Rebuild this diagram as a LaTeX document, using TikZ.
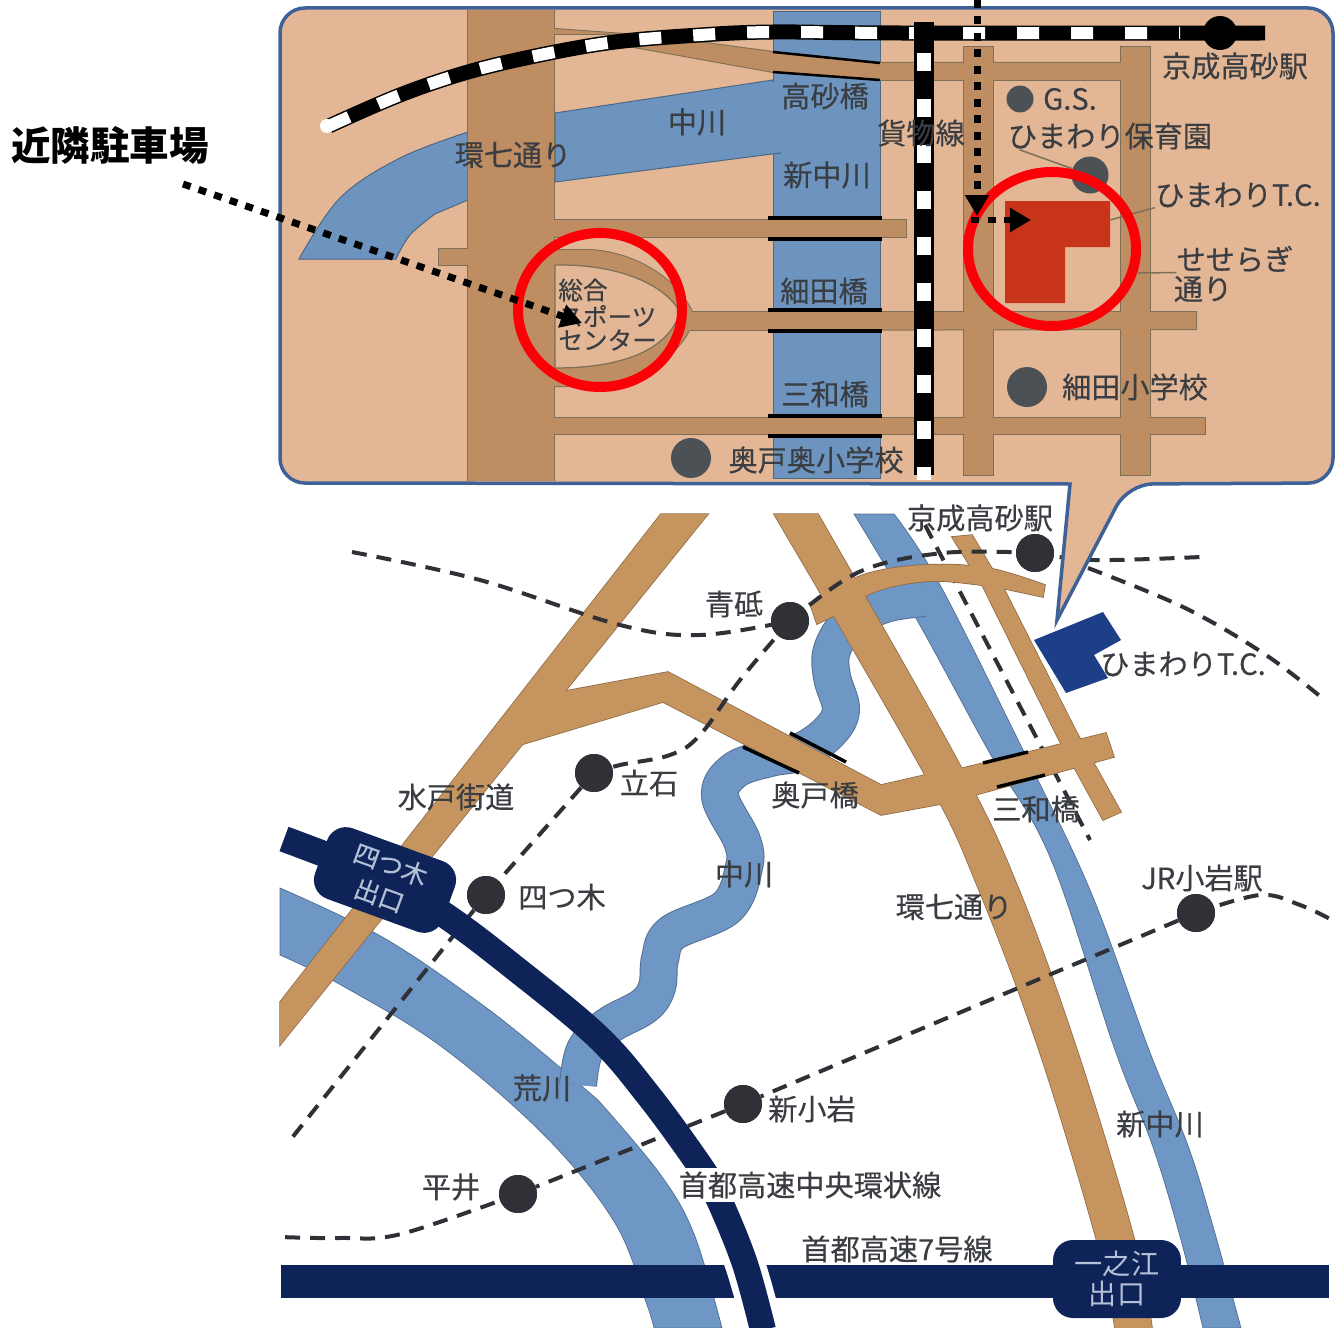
\documentclass[tikz,border=0pt]{standalone}
\usepackage{fontspec}
\setmainfont{Noto Sans CJK JP}
\newfontfamily\labfont{Noto Sans CJK JP}[FakeBold=0.35]
\usetikzlibrary{arrows.meta}
\definecolor{beige}{HTML}{E3B795}
\definecolor{roadT}{HTML}{BE8D62}
\definecolor{blueT}{HTML}{6C94BE}
\definecolor{roadB}{HTML}{C6955F}
\definecolor{blueB}{HTML}{6F97C6}
\definecolor{navy}{HTML}{0E2358}
\definecolor{panelline}{HTML}{3E6197}
\definecolor{labc}{HTML}{3A3D42}
\definecolor{dotg}{HTML}{4C5156}
\definecolor{dotd}{HTML}{2F3136}
\definecolor{edgeT}{HTML}{7D6F58}
\definecolor{redc}{HTML}{FB0007}
\definecolor{bldg}{HTML}{C8341A}
\definecolor{bldgb}{HTML}{1C3F87}
\definecolor{exitc}{HTML}{B4C0D6}
\newcommand{\lowroads}[1]{%
  \path[#1] (661,514) -- (708,514) -- (280,1045) -- (280,1002) -- cycle;
  \path[#1] (560,692) -- (668,672) -- (881,785) -- (925,775) -- (952,802) -- (881,815) -- (663,702) -- (520,745) -- cycle;
  \path[#1] plot[smooth,tension=0.6] coordinates {(810,604)(863,575)(925,565)(988,568)(1045,585)} -- (1043,597) --
    plot[smooth,tension=0.6] coordinates {(1001,588)(934,581)(877,591)(837,614)(817,624)} -- cycle;
  \path[#1] (952,537) -- (972,535) -- (1003,587) -- (1077,733) -- (1121,812) -- (1103,820) -- (1059,740) -- (983,587) -- cycle;
  \path[#1] (955,770) -- (1106,733) -- (1114,757) -- (975,795) -- cycle;
  \path[#1] plot[smooth,tension=0.6] coordinates {(774,514)(925,775)(979,890)(1039,1050)(1096,1238)(1115,1328)} --
    plot[smooth,tension=0.6] coordinates {(1152,1328)(1134,1238)(1077,1050)(1019,890)(961,767)(818,514)} -- cycle;
}
\newcommand{\toproads}[1]{%
  \path[#1] (540,28) -- (625,34) -- (540,34) -- cycle;
  \path[#1] (623,45) -- (690,41) -- (773,52) -- (880,63) -- (1125,63) -- (1125,80) -- (880,80) -- (773,72) -- cycle;
  \path[#1] (439,249) rectangle (480,265);
  \path[#1] (540,220) rectangle (906,237);
  \path[#1] (540,418) rectangle (1205,434);
  \path[#1] (540,250) -- (590,250) .. controls (630,252) and (675,275) .. (692,312) -- (1196,312) -- (1196,329) -- (689,330) .. controls (675,360) and (630,385) .. (580,386) -- (540,386) -- cycle;
  \path[#1] (964,47) rectangle (993,475);
  \path[#1] (1121,47) rectangle (1150,475);
  \path[#1] (468,8) rectangle (554,485);
}
\tikzset{
  lab/.style={inner sep=0pt,text=labc,font=\labfont\fontsize{16.6}{18}\selectfont},
  labs/.style={inner sep=0pt,text=labc,font=\labfont\fontsize{14}{16}\selectfont},
  rivT/.style={fill=blueT,draw=blueT!70!black,line width=0.02cm},
  rivB/.style={fill=blueB,draw=blueB!75!black,line width=0.015cm},
  barb/.style={black,line width=0.07cm},
  graydot/.style={circle,fill=dotg,inner sep=0pt},
  darkdot/.style={circle,fill=dotd,inner sep=0pt,minimum size=0.76cm},
  railline/.style={dotd,line width=0.08cm,dash pattern=on 0.3cm off 0.2cm},
  ringroad/.style={navy,line width=0.52cm},
  thin leader/.style={draw=edgeT,line width=0.03cm},
  parkarrow/.style={black,line width=0.14cm,dash pattern=on 0.16cm off 0.17cm,-{Triangle[length=0.42cm,width=0.46cm]}},
  circ/.style={draw=redc,line width=0.2cm}
}
\begin{document}
\begin{tikzpicture}[x=0.02cm,y=-0.02cm]
\useasboundingbox (0,0) rectangle (1343,1328);
\fill[white] (0,0) rectangle (1343,1328);

% ---- lower map: rivers
\path[rivB] plot[smooth,tension=0.6] coordinates {(280,888)(384,938)(484,1006)(556,1064)} --
  plot[smooth,tension=0.6] coordinates {(598,1100)(660,1174)(694,1234)(722,1328)} --
  plot[smooth,tension=0.6] coordinates {(654,1328)(646,1302)(615,1223)(546,1137)(442,1047)(341,985)(280,955)} -- cycle;
\path[rivB] plot[smooth,tension=0.6] coordinates {(854,514)(917,620)(988,750)(1050,857)(1115,1050)(1153,1147)(1181,1240)(1203,1328)} --
  plot[smooth,tension=0.6] coordinates {(1241,1328)(1212,1223)(1187,1143)(1149,1050)(1090,890)(1023,750)(939,583)(894,514)} -- cycle;
\draw[blueB!75!black,line width=0.76cm,line join=round] plot[smooth,tension=0.6] coordinates {(578,1085)(585,1050)(608,1026)(644,1006)(657,987)(660,959)(672,933)(727,907)(744,867)(742,841)(720,796)(735,770)(770,758)(800,752)(828,733)(841,710)(832,677)(832,650)(850,622)(885,604)(925,598)};
\draw[blueB,line width=0.72cm,line join=round] plot[smooth,tension=0.6] coordinates {(578,1085)(585,1050)(608,1026)(644,1006)(657,987)(660,959)(672,933)(727,907)(744,867)(742,841)(720,796)(735,770)(770,758)(800,752)(828,733)(841,710)(832,677)(832,650)(850,622)(885,604)(925,598)};
\fill[blueB] (885,590) -- (935,585) -- (950,615) -- (905,612) -- cycle;

% freight line, lower map
\coordinate (fa) at (925,525); \coordinate (fb) at (1090,840);
\draw[railline] (fa) -- (fb);

% roads, lower map
\lowroads{fill=roadB,draw=roadB!70!black,line width=0.03cm}
\lowroads{fill=roadB}
% bridges
\draw[barb] (790,733) -- (846,762);
\draw[barb] (743,747) -- (799,773);
\draw[barb] (983,763) -- (1028,752);
\draw[barb] (997,787) -- (1045,775);

% building lower
\fill[bldgb] (1034,640) -- (1103,612) -- (1121,640) -- (1094,655) -- (1108,678) -- (1066,693) -- cycle;

% stations & dashed lines
\node[darkdot] (aoto) at (790,621) {};
\node[darkdot] (tate) at (594,773) {};
\node[darkdot] (yotsu) at (486,895) {};
\node[darkdot] (shinko) at (743,1104) {};
\node[darkdot] (hirai) at (518,1194) {};
\node[darkdot] (keisei) at (1035,553) {};
\node[darkdot] (jr) at (1196,913) {};
\coordinate (w1) at (352,552);
\coordinate (e1) at (1201,557);
\coordinate (e2) at (1088,568);
\coordinate (e3) at (1321,697);
\coordinate (sw) at (291,1139);
\coordinate (hw) at (280,1237);
\coordinate (jre) at (1332,920);
\draw[railline] plot[smooth,tension=0.6] coordinates {(w1)(480,580)(620,625)(700,635)(aoto)};
\draw[railline] plot[smooth,tension=0.6] coordinates {(aoto)(859,572)(943,553)(keisei)};
\draw[railline] plot[smooth,tension=0.6] coordinates {(keisei)(1094,560)(e1)};
\draw[railline] plot[smooth,tension=0.6] coordinates {(e2)(1183,607)(1263,653)(e3)};
\draw[railline] plot[smooth,tension=0.6] coordinates {(aoto)(740,680)(700,735)(670,755)(620,765)(tate)};
\draw[railline] (tate) -- (yotsu) -- (sw);
\draw[railline] (jr) -- (shinko) -- (hirai);
\draw[railline] plot[smooth,tension=0.6] coordinates {(hirai)(401,1234)(340,1238)(hw)};
\draw[railline] plot[smooth,tension=0.6] coordinates {(jr)(1260,895)(1300,905)(jre)};
\node[darkdot] at (aoto) {};
\node[darkdot] at (tate) {};
\node[darkdot] at (yotsu) {};
\node[darkdot] at (shinko) {};
\node[darkdot] at (hirai) {};
\node[darkdot] at (keisei) {};
\node[darkdot] at (jr) {};

% expressways
\fill[navy] (281,1265) rectangle (1329,1298);
\begin{scope}
  \clip (270,800) rectangle (800,1167);
  \draw[ringroad] plot[smooth,tension=0.6] coordinates {(284,839)(385,879)(446,916)(511,965)(597,1036)(649,1096)(698,1163)(725,1205)};
\end{scope}
\begin{scope}
  \clip (700,1265) rectangle (820,1298);
  \draw[white,line width=0.8cm] plot[smooth,tension=0.6] coordinates {(706,1175)(721,1204)(745,1264)(763,1328)};
\end{scope}
\begin{scope}
  \clip (690,1202) rectangle (800,1328);
  \draw[ringroad] plot[smooth,tension=0.6] coordinates {(706,1175)(721,1204)(745,1264)(763,1330)};
\end{scope}
\node[rotate=-20,fill=navy,rounded corners=0.4cm,minimum width=2.72cm,minimum height=1.5cm,inner sep=0pt,text=exitc,align=center,font=\labfont\fontsize{14.5}{18.7}\selectfont] (yexit) at (385,880) {四つ木\\出口};
\node[fill=navy,rounded corners=0.4cm,minimum width=2.56cm,minimum height=1.56cm,inner sep=0pt,text=exitc,align=center,font=\fontsize{16}{17}\selectfont] (iexit) at (1117,1279) {一之江\\出口};

% ---- panel with callout
\path[fill=beige,draw=panelline,line width=0.07cm,rounded corners=0.5cm,line join=miter]
  (280,8) -- (1333,8) -- (1333,483) -- (1128,484) [sharp corners] -- (1057,620) -- (1070,484) [rounded corners=0.5cm] -- (280,483) -- cycle;
\begin{scope}
\clip (283,11) rectangle (1330,480);
% rivers top
\path[rivT] (773,12) rectangle (880,478);
\path[rivT] (555,113) -- (773,80) -- (780,153) -- (555,182) -- cycle;
\fill[blueT] (770,82) rectangle (785,152);
\path[rivT] plot[smooth,tension=0.6] coordinates {(299,259)(340,198)(400,158)(468,132)} -- (468,200) --
  plot[smooth,tension=0.6] coordinates {(435,214)(410,235)(396,259)} -- cycle;
% roads top
\toproads{fill=roadT,draw=edgeT,line width=0.04cm}
\toproads{fill=roadT}
% sports centre loop
\path[fill=beige,draw=edgeT,line width=0.025cm] (555,265) .. controls (620,264) and (665,285) .. (680,312) .. controls (672,340) and (640,368) .. (555,368) -- cycle;
% bridge bars
\foreach \yy in {218,239,310,331,416,436}{\draw[barb] (768,\yy) -- (882,\yy);}
\draw[black,line width=0.05cm] (773,72) -- (880,80);
\draw[black,line width=0.05cm] (773,52) -- (880,63);
% rails
\draw[black,line width=0.3cm,line cap=butt] plot[smooth,tension=0.6] coordinates {(329,126)(400,95)(468,72)(540,55)(615,42)(700,35)(773,32)(900,33)(1265,33)};
\draw[white,line width=0.24cm,dash pattern=on 0.44cm off 0.64cm] plot[smooth,tension=0.6] coordinates {(329,126)(400,95)(468,72)(540,55)(615,42)(700,35)(773,32)(900,33)(1180,33)};
\draw[black,line width=0.4cm] (924,22) -- (924,475);
\draw[white,line width=0.27cm,dash pattern=on 0.36cm off 0.56cm,dash phase=-0.5cm] (924,28) -- (924,480);
\end{scope}
\fill[white] (327,126) circle (7);
\node[circle,fill=black,minimum size=0.68cm,inner sep=0pt] (keiseiT) at (1220,33) {};
% building
\fill[bldg] (1005,201) -- (1110,201) -- (1110,247) -- (1065,247) -- (1065,303) -- (1005,303) -- cycle;
% dots & leaders
\node[graydot,minimum size=0.54cm] (gs) at (1020,99) {};
\node[graydot,minimum size=0.74cm] (hoiku) at (1090,175) {};
\node[graydot,minimum size=0.8cm] (hosoda) at (1027,387) {};
\node[graydot,minimum size=0.8cm] (okudo) at (691,458) {};
% labels top
\node[lab] (t1) at (825,96) {高砂橋};
\node[lab] (t2) at (697,122) {中川};
\node[lab] (t3) at (827,175) {新中川};
\node[lab] (t4) at (513,155) {環七通り};
\node[lab] (t5) at (921,133) {貨物線};
\node[lab] (t6) at (1070,99) {G.S.};
\node[lab] (t7) at (1110,136) {ひまわり保育園};
\node[lab] (t8) at (1238,195) {ひまわりT.C.};
\node[lab] (t9) at (1235,259) {せせらぎ};
\node[lab] (t10) at (1203,289) {通り};
\node[lab] (t11) at (1235,66) {京成高砂駅};
\node[lab] (t12) at (1135,387) {細田小学校};
\node[lab] (t13) at (816,460) {奥戸奥小学校};
\node[lab] (t14) at (824,291) {細田橋};
\node[lab] (t15) at (825,394) {三和橋};
\node[labs,anchor=west] (t16) at (558,290) {総合};
\node[labs,anchor=west] (t17) at (558,316) {スポーツ};
\node[labs,anchor=west] (t18) at (558,340) {センター};
\draw[thin leader] (t7.south west) ++(12,0) -- (hoiku);
\draw[thin leader] (1110,220) -- (t8.south west);
\coordinate (sl) at (1138,273);
\draw[thin leader] (sl) -- (t9.south west);
% red circles
\draw[circ] (600,310) ellipse [x radius=82,y radius=77];
\draw[circ] (1052,249) ellipse [x radius=84,y radius=77];
% parking arrows
\node[inner sep=0pt,text=black,font=\fontsize{22.5}{24}\selectfont\bfseries] (park) at (110,145) {近隣駐車場};
\coordinate (a1) at (183,184);
\coordinate (a2) at (582,323);
\coordinate (b1) at (977,0);
\coordinate (b2) at (977,216);
\coordinate (c1) at (971,220);
\coordinate (c2) at (1031,220);
\draw[parkarrow] (a1) -- (a2);
\draw[parkarrow] (b1) -- (b2);
\draw[parkarrow] (c1) -- (c2);
% labels lower
\node[lab] (b01) at (980,518) {京成高砂駅};
\node[lab] (b02) at (734,604) {青砥};
\node[lab] (b03) at (1183,664) {ひまわりT.C.};
\node[lab] (b04) at (649,783) {立石};
\node[lab] (b05) at (456,797) {水戸街道};
\node[lab] (b06) at (815,795) {奥戸橋};
\node[lab] (b07) at (1036,809) {三和橋};
\node[lab] (b08) at (562,897) {四つ木};
\node[lab] (b09) at (744,874) {中川};
\node[lab] (b10) at (954,907) {環七通り};
\node[lab] (b11) at (1202,878) {JR小岩駅};
\node[lab] (b12) at (542,1088) {荒川};
\node[lab] (b13) at (812,1109) {新小岩};
\node[lab] (b14) at (1160,1124) {新中川};
\node[lab] (b15) at (451,1187) {平井};
\node[lab] (b16) at (810,1185) {首都高速中央環状線};
\node[lab] (b17) at (897,1249) {首都高速7号線};
\end{tikzpicture}
\end{document}
